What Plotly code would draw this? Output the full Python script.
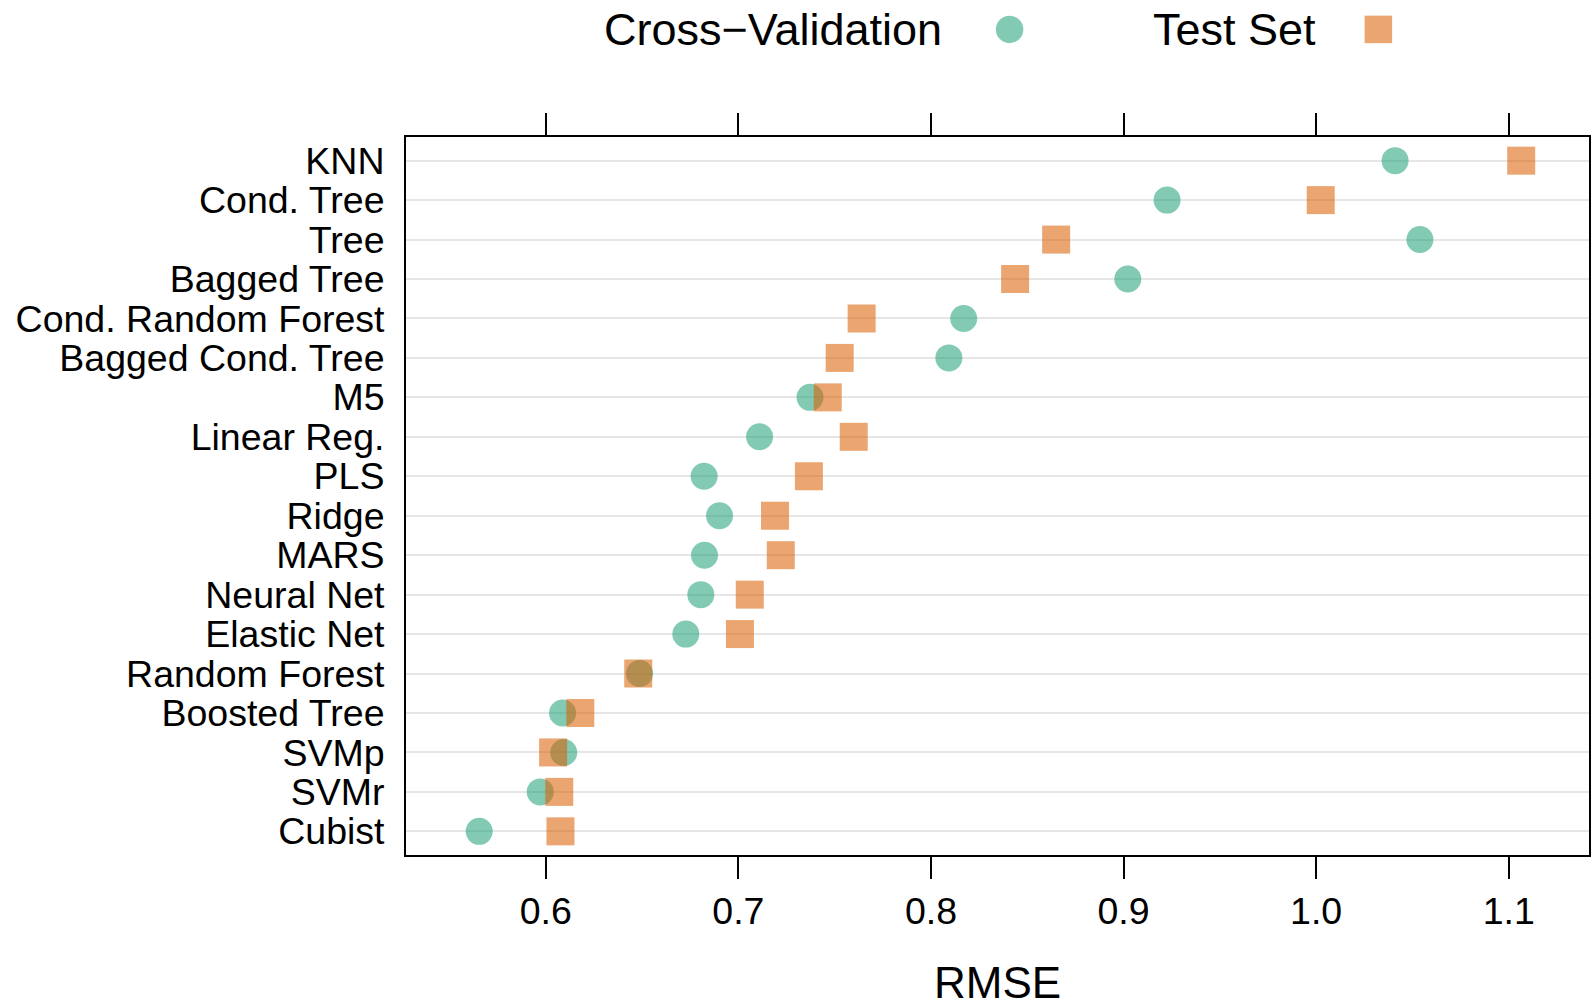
import plotly.graph_objects as go

models = ["KNN", "Cond. Tree", "Tree", "Bagged Tree", "Cond. Random Forest",
          "Bagged Cond. Tree", "M5", "Linear Reg.", "PLS", "Ridge", "MARS",
          "Neural Net", "Elastic Net", "Random Forest", "Boosted Tree", "SVMp",
          "SVMr", "Cubist"]
cv_rmse = [1.041, 0.9226, 1.0539, 0.9022, 0.817, 0.8093, 0.7372, 0.711, 0.6822,
           0.6902, 0.6824, 0.6805, 0.6727, 0.6487, 0.6087, 0.6093, 0.5971, 0.5654]
test_rmse = [1.1065, 1.0024, 0.865, 0.8437, 0.764, 0.7526, 0.7464, 0.7599, 0.7366,
             0.719, 0.722, 0.7059, 0.7008, 0.648, 0.6179, 0.6038, 0.607, 0.6076]
x_ticks = [0.6, 0.7, 0.8, 0.9, 1.0, 1.1]
x_ticktext = ["0.6", "0.7", "0.8", "0.9", "1.0", "1.1"]

GREEN = "rgba(27,158,119,0.55)"
ORANGE = "rgba(217,95,2,0.56)"
FONT = "Liberation Sans, Arial, Helvetica, sans-serif"

W, H = 1591, 1004
ML, MR, MT, MB = 406, 0, 137, 149
PW, PH = W - ML - MR, H - MT - MB

def px_x(p):
    return (p - ML) / PW

def px_y(p):
    return (H - MB - p) / PH

fig = go.Figure()
fig.add_trace(go.Scatter(
    x=cv_rmse, y=models, mode="markers", name="Cross-Validation",
    marker=dict(symbol="circle", size=27, color=GREEN, line=dict(width=0)),
    showlegend=False, cliponaxis=False))
fig.add_trace(go.Scatter(
    x=test_rmse, y=models, mode="markers", name="Test Set",
    marker=dict(symbol="square", size=28, color=ORANGE, line=dict(width=0)),
    showlegend=False, cliponaxis=False))

fig.update_layout(
    width=W, height=H,
    margin=dict(l=ML, r=MR, t=MT, b=MB, pad=0),
    paper_bgcolor="white", plot_bgcolor="white",
    font=dict(family=FONT, color="black", size=37),
    xaxis=dict(
        range=[0.5274, 1.1417], tickvals=x_ticks, ticktext=x_ticktext,
        showline=True, linecolor="black", linewidth=2, mirror="ticks",
        ticks="outside", ticklen=22, tickwidth=2, tickcolor="black",
        showgrid=False, zeroline=False,
        tickfont=dict(size=37.5, family=FONT, color="black"),
    ),
    yaxis=dict(
        categoryorder="array", categoryarray=models[::-1],
        tickmode="array", tickvals=models, ticktext=models,
        range=[-0.6, len(models) - 0.4],
        showline=True, linecolor="black", linewidth=2, mirror=True,
        ticks="", showgrid=True, gridcolor="#E6E6E6", gridwidth=2,
        zeroline=False, ticklabelstandoff=12,
        tickfont=dict(size=37.5, family=FONT, color="black"),
    ),
    annotations=[
        dict(text="RMSE", x=0.5, y=px_y(982), xref="paper", yref="paper",
             xanchor="center", yanchor="middle", showarrow=False,
             font=dict(size=44, family=FONT, color="black")),
        dict(text="Cross\u2212Validation", x=px_x(945), y=px_y(29.5), xref="paper",
             yref="paper", xanchor="right", yanchor="middle", showarrow=False,
             font=dict(size=45, family=FONT, color="black")),
        dict(text="Test Set", x=px_x(1152), y=px_y(29.5), xref="paper",
             yref="paper", xanchor="left", yanchor="middle", showarrow=False,
             font=dict(size=45, family=FONT, color="black")),
    ],
    shapes=[
        dict(type="circle", xref="paper", yref="paper", xsizemode="pixel",
             ysizemode="pixel", xanchor=px_x(1010.6), yanchor=px_y(29.4),
             x0=-13.75, x1=13.75, y0=-13.75, y1=13.75,
             fillcolor=GREEN, line=dict(width=0)),
        dict(type="rect", xref="paper", yref="paper", xsizemode="pixel",
             ysizemode="pixel", xanchor=px_x(1380), yanchor=px_y(29.4),
             x0=-13.75, x1=13.75, y0=-13.75, y1=13.75,
             fillcolor=ORANGE, line=dict(width=0)),
    ],
)

fig.write_html("out.html")
